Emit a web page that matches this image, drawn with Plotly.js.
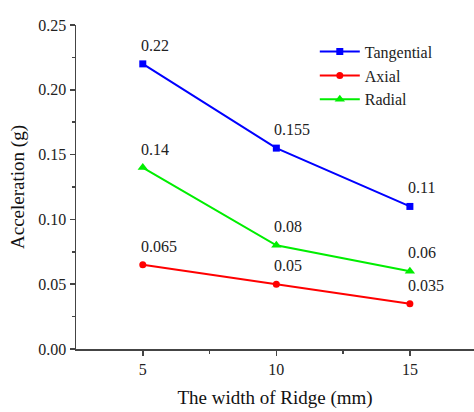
<!DOCTYPE html>
<html>
<head>
<meta charset="utf-8">
<script src="https://cdn.plot.ly/plotly-3.0.1.min.js"></script>
<style>html,body{margin:0;padding:0;background:#fff;}#chart{width:474px;height:412px;}</style>
</head>
<body>
<div id="chart"></div>
<script>
const widths = [5, 10, 15];
const tangential = [0.22, 0.155, 0.11];
const axial = [0.065, 0.05, 0.035];
const radial = [0.14, 0.08, 0.06];
const tangentialLabels = ["0.22", "0.155", "0.11"];
const axialLabels = ["0.065", "0.05", "0.035"];
const radialLabels = ["0.14", "0.08", "0.06"];
const xTicks = [5, 10, 15];
const yTicks = [0, 0.05, 0.10, 0.15, 0.20, 0.25];
const yTickText = ["0.00", "0.05", "0.10", "0.15", "0.20", "0.25"];

const font = "Liberation Serif, Times New Roman, serif";
function series(name, y, color, symbol, size) {
  return {
    x: widths, y: y, name: name, type: "scatter", mode: "lines+markers",
    line: {color: color, width: 2},
    marker: {color: color, symbol: symbol, size: size},
    cliponaxis: false
  };
}
const data = [
  series("Tangential", tangential, "#0000ff", "square", 7),
  series("Axial", axial, "#ff0000", "circle", 7),
  series("Radial", radial, "#00ee00", "triangle-up", 9)
];
const annotations = [];
[[tangential, tangentialLabels], [axial, axialLabels], [radial, radialLabels]].forEach(([ys, labels]) => {
  ys.forEach((v, i) => annotations.push({
    x: widths[i], y: v, text: labels[i], showarrow: false,
    xanchor: "left", yanchor: "bottom", xshift: -4, yshift: 8,
    font: {family: font, size: 16, color: "#222"}
  }));
});
const layout = {
  width: 474, height: 412,
  margin: {l: 76, r: 0, t: 25, b: 63},
  paper_bgcolor: "#fff", plot_bgcolor: "#fff",
  font: {family: font, color: "#222", size: 16},
  showlegend: true,
  annotations: annotations,
  legend: {x: 0.6, y: 0.97, xanchor: "left", yanchor: "top",
           font: {family: font, size: 16, color: "#222"},
           bgcolor: "rgba(0,0,0,0)", tracegroupgap: 0, itemwidth: 40},
  xaxis: {
    range: [2.5, 17.4], tickvals: xTicks, ticktext: xTicks.map(String),
    showgrid: false, zeroline: false, showline: true, linecolor: "#444", linewidth: 1.5,
    ticks: "outside", ticklen: 5, tickcolor: "#444", tickwidth: 1.5,
    minor: {tickvals: [7.5, 12.5], ticks: "outside", ticklen: 3, tickcolor: "#444", showgrid: false},
    tickfont: {family: font, size: 16, color: "#222"},
    title: {text: "The width of Ridge (mm)", font: {family: font, size: 19, color: "#111"}, standoff: 14}
  },
  yaxis: {
    range: [0, 0.25], tickvals: yTicks, ticktext: yTickText,
    showgrid: false, zeroline: false, showline: true, linecolor: "#444", linewidth: 1.5,
    ticks: "outside", ticklen: 5, tickcolor: "#444", tickwidth: 1.5,
    minor: {tickvals: [0.025, 0.075, 0.125, 0.175, 0.225], ticks: "outside", ticklen: 3, tickcolor: "#444", showgrid: false},
    tickfont: {family: font, size: 16, color: "#222"},
    title: {text: "Acceleration (g)", font: {family: font, size: 19, color: "#111"}, standoff: 8}
  }
};
Plotly.newPlot("chart", data, layout, {displayModeBar: false, staticPlot: true});
</script>
</body>
</html>
